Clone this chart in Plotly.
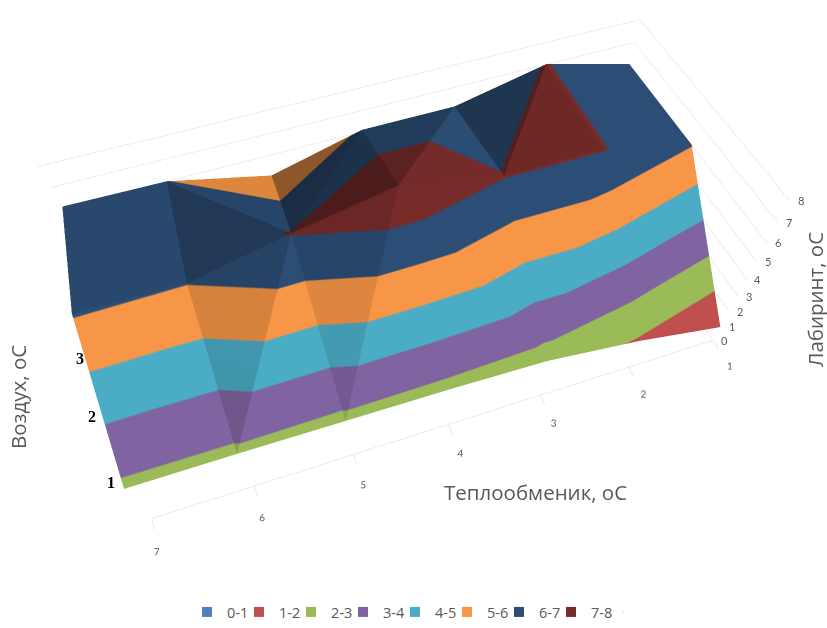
import plotly.graph_objects as go

# Heat-exchanger temperature along one side, air temperature rows along the other
heat_exchanger = [1, 2, 3, 4, 5, 6, 7]
air_rows = [1, 2, 3]

# Labyrinth temperature for each air row
labyrinth_row1 = [0.95, 1.9, 2.55, 2.7, 2.75, 2.8, 2.8]
labyrinth_row2 = [6.02, 7.02, 7.02, 7.9, 7.02, 6.0, 6.05]
labyrinth_row3 = [6.02, 7.02, 6.1, 6.1, 5.0, 6.0, 6.05]

band_names = ["0-1", "1-2", "2-3", "3-4", "4-5", "5-6", "6-7", "7-8"]
band_colors = ["#4F81BD", "#C0504D", "#9BBB59", "#8064A2", "#4BACC6", "#F79646", "#2C4D75", "#772C2A"]
z_ticks = [0, 1, 2, 3, 4, 5, 6, 7, 8]

GRID = "#D9D9D9"
TEXT = "#595959"

xs, ys, zs = [], [], []
for row, values in zip(air_rows, [labyrinth_row1, labyrinth_row2, labyrinth_row3]):
    for x, value in zip(heat_exchanger, values):
        xs.append(x)
        ys.append(row)
        zs.append(value)


def vertex(col, row):
    return (row - 1) * len(heat_exchanger) + (col - 1)


# Each grid cell is split in two triangles; the diagonal follows the fold of the surface
triangles = []
for a in heat_exchanger[:-1]:
    b = a + 1
    if a == 3:
        triangles += [(vertex(a, 1), vertex(b, 1), vertex(b, 2)), (vertex(a, 1), vertex(a, 2), vertex(b, 2))]
    else:
        triangles += [(vertex(a, 2), vertex(b, 1), vertex(a, 1)), (vertex(a, 2), vertex(b, 1), vertex(b, 2))]
    if a == 5:
        triangles += [(vertex(b, 3), vertex(a, 2), vertex(a, 3)), (vertex(b, 3), vertex(a, 2), vertex(b, 2))]
    else:
        triangles += [(vertex(a, 3), vertex(b, 2), vertex(a, 2)), (vertex(a, 3), vertex(b, 2), vertex(b, 3))]
tri_i, tri_j, tri_k = zip(*triangles)

# One flat colour per unit of labyrinth temperature
band_scale = []
for index, color in enumerate(band_colors):
    band_scale += [[index / len(band_colors), color], [(index + 1) / len(band_colors), color]]

fig = go.Figure()
fig.add_trace(go.Mesh3d(
    x=xs, y=ys, z=zs, i=tri_i, j=tri_j, k=tri_k,
    intensity=zs, colorscale=band_scale, cmin=0, cmax=8, showscale=False, flatshading=True,
    lighting=dict(ambient=0.38, diffuse=0.88, specular=0, roughness=1, fresnel=0),
    lightposition=dict(x=-100000, y=-100000, z=0),
    hoverinfo="skip", showlegend=False,
))
for name, color in zip(band_names, band_colors):
    fig.add_trace(go.Scatter(x=[None], y=[None], mode="markers", name=name,
                             marker=dict(symbol="square", size=10, color=color)))
# Empty last entry keeps the final legend label from being cut by the legend box
fig.add_trace(go.Scatter(x=[None], y=[None], mode="markers", name="\u00a0", marker=dict(size=1, opacity=0)))

axis_base = dict(showbackground=False, showspikes=False, title="", zeroline=False)

z_labels = [dict(x=heat_exchanger[0], y=air_rows[0], z=tick, text=str(tick), showarrow=False, xshift=11,
                 font=dict(family="Lato", size=11, color=TEXT)) for tick in z_ticks]


def note(text, px, py, **kw):
    return dict(text=text, x=px / 827, y=1 - py / 628, xref="paper", yref="paper", showarrow=False,
                xanchor="center", yanchor="middle", **kw)


title_font = dict(family="Open Sans", size=20.5, color=TEXT)
row_font = dict(family="Liberation Serif", size=16, color="black")

fig.update_layout(
    width=827, height=628, margin=dict(l=0, r=0, t=0, b=0),
    template="none", paper_bgcolor="white", plot_bgcolor="white",
    xaxis=dict(visible=False), yaxis=dict(visible=False),
    scene=dict(
        domain=dict(x=[0, 1], y=[0, 1]), bgcolor="white",
        aspectmode="manual", aspectratio=dict(x=2.7687, y=1.2148, z=1.0088),
        camera=dict(eye=dict(x=0.5334, y=2.0630, z=2.7218),
                    center=dict(x=0.4893, y=1.9011, z=2.4731),
                    up=dict(x=-0.2779, y=-0.7818, z=0.5582)),
        xaxis=dict(axis_base, range=[1, 7], tickvals=heat_exchanger, showgrid=False, showline=True,
                   linecolor=GRID, ticks="outside", ticklen=5, tickcolor=GRID, tickangle=0,
                   tickfont=dict(family="Lato", size=11, color=TEXT)),
        yaxis=dict(axis_base, range=[3, 1], showgrid=False, showticklabels=False, showline=False, ticks=""),
        zaxis=dict(axis_base, range=[0, 8], tickvals=z_ticks, showgrid=True, gridcolor=GRID, showline=False,
                   showticklabels=False, ticks=""),
        annotations=z_labels,
    ),
    legend=dict(orientation="h", x=187 / 827, xanchor="left", y=0, yanchor="bottom",
                font=dict(family="Open Sans", size=14.5, color=TEXT),
                itemwidth=30, entrywidth=7, entrywidthmode="pixels"),
    annotations=[
        note("Лабиринт, оС", 815, 300, textangle=-90, font=title_font),
        note("Воздух, оС", 18, 397, textangle=-90, font=title_font),
        note("Теплообменик, оС", 535, 492, font=title_font),
        note("<b>1</b>", 111, 482, font=row_font),
        note("<b>2</b>", 92, 416, font=row_font),
        note("<b>3</b>", 80, 358, font=row_font),
    ],
)
fig.write_html("out.html")
